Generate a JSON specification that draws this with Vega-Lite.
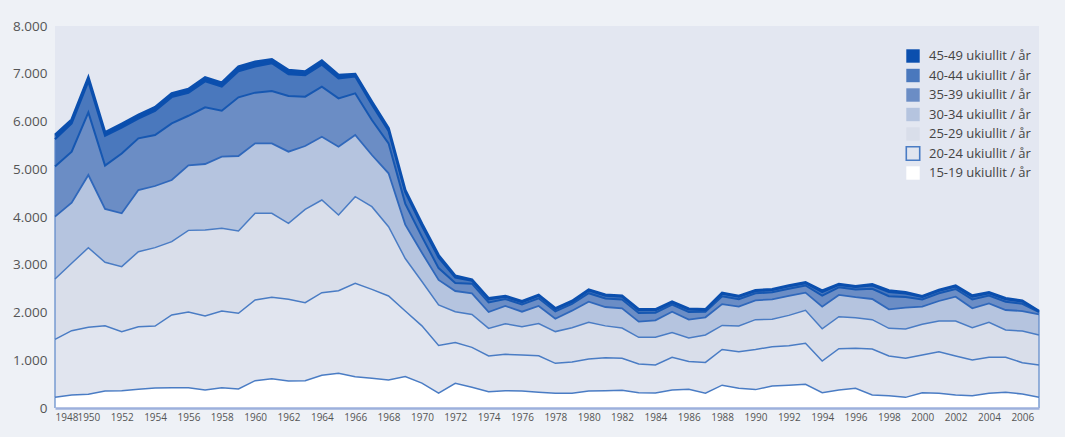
{
  "$schema": "https://vega.github.io/schema/vega-lite/v6.json",
  "width": 984,
  "height": 382,
  "autosize": {"type": "none"},
  "padding": {"left": 55, "top": 26, "right": 26, "bottom": 29},
  "background": "#eef1f6",
  "view": {"fill": "#e3e7f1", "stroke": null},
  "config": {
    "font": "Open Sans",
    "axis": {"labelColor": "#555555", "grid": false, "ticks": false, "title": null, "labelFont": "Open Sans"}
  },
  "data": {
    "values": [
      {"year":1948,"15-19":223,"20-24":1215,"25-29":1262,"30-34":1307,"35-39":1053,"40-44":570,"45-49":87},
      {"year":1949,"15-19":272,"20-24":1348,"25-29":1410,"30-34":1270,"35-39":1068,"40-44":592,"45-49":80},
      {"year":1950,"15-19":286,"20-24":1403,"25-29":1669,"30-34":1522,"35-39":1312,"40-44":648,"45-49":85},
      {"year":1951,"15-19":356,"20-24":1368,"25-29":1327,"30-34":1117,"35-39":907,"40-44":625,"45-49":70},
      {"year":1952,"15-19":363,"20-24":1236,"25-29":1361,"30-34":1117,"35-39":1253,"40-44":540,"45-49":80},
      {"year":1953,"15-19":391,"20-24":1312,"25-29":1571,"30-34":1291,"35-39":1082,"40-44":413,"45-49":76},
      {"year":1954,"15-19":419,"20-24":1298,"25-29":1641,"30-34":1291,"35-39":1068,"40-44":503,"45-49":80},
      {"year":1955,"15-19":426,"20-24":1522,"25-29":1535,"30-34":1292,"35-39":1187,"40-44":548,"45-49":80},
      {"year":1956,"15-19":426,"20-24":1584,"25-29":1710,"30-34":1360,"35-39":1040,"40-44":480,"45-49":80},
      {"year":1957,"15-19":377,"20-24":1550,"25-29":1801,"30-34":1382,"35-39":1187,"40-44":543,"45-49":85},
      {"year":1958,"15-19":426,"20-24":1605,"25-29":1732,"30-34":1501,"35-39":963,"40-44":503,"45-49":83},
      {"year":1959,"15-19":398,"20-24":1585,"25-29":1724,"30-34":1570,"35-39":1229,"40-44":544,"45-49":98},
      {"year":1960,"15-19":572,"20-24":1690,"25-29":1815,"30-34":1466,"35-39":1061,"40-44":546,"45-49":103},
      {"year":1961,"15-19":614,"20-24":1704,"25-29":1759,"30-34":1466,"35-39":1096,"40-44":581,"45-49":82},
      {"year":1962,"15-19":565,"20-24":1711,"25-29":1591,"30-34":1501,"35-39":1166,"40-44":456,"45-49":88},
      {"year":1963,"15-19":572,"20-24":1634,"25-29":1955,"30-34":1326,"35-39":1033,"40-44":450,"45-49":74},
      {"year":1964,"15-19":684,"20-24":1731,"25-29":1941,"30-34":1326,"35-39":1048,"40-44":460,"45-49":84},
      {"year":1965,"15-19":726,"20-24":1731,"25-29":1585,"30-34":1431,"35-39":1012,"40-44":415,"45-49":74},
      {"year":1966,"15-19":656,"20-24":1955,"25-29":1815,"30-34":1291,"35-39":873,"40-44":350,"45-49":55},
      {"year":1967,"15-19":621,"20-24":1864,"25-29":1731,"30-34":1082,"35-39":733,"40-44":319,"45-49":65},
      {"year":1968,"15-19":586,"20-24":1760,"25-29":1452,"30-34":1117,"35-39":628,"40-44":257,"45-49":57},
      {"year":1969,"15-19":660,"20-24":1370,"25-29":1100,"30-34":710,"35-39":440,"40-44":240,"45-49":45},
      {"year":1970,"15-19":520,"20-24":1200,"25-29":930,"30-34":600,"35-39":340,"40-44":220,"45-49":50},
      {"year":1971,"15-19":310,"20-24":1000,"25-29":847,"30-34":524,"35-39":249,"40-44":220,"45-49":50},
      {"year":1972,"15-19":517,"20-24":853,"25-29":647,"30-34":433,"35-39":170,"40-44":110,"45-49":40},
      {"year":1973,"15-19":433,"20-24":837,"25-29":690,"30-34":441,"35-39":202,"40-44":64,"45-49":23},
      {"year":1974,"15-19":342,"20-24":747,"25-29":579,"30-34":342,"35-39":201,"40-44":63,"45-49":23},
      {"year":1975,"15-19":363,"20-24":761,"25-29":641,"30-34":371,"35-39":147,"40-44":46,"45-49":17},
      {"year":1976,"15-19":356,"20-24":754,"25-29":593,"30-34":314,"35-39":152,"40-44":48,"45-49":17},
      {"year":1977,"15-19":328,"20-24":767,"25-29":675,"30-34":366,"35-39":162,"40-44":51,"45-49":18},
      {"year":1978,"15-19":307,"20-24":628,"25-29":665,"30-34":270,"35-39":152,"40-44":48,"45-49":17},
      {"year":1979,"15-19":307,"20-24":658,"25-29":715,"30-34":358,"35-39":141,"40-44":45,"45-49":16},
      {"year":1980,"15-19":356,"20-24":670,"25-29":768,"30-34":433,"35-39":177,"40-44":56,"45-49":20},
      {"year":1981,"15-19":363,"20-24":691,"25-29":666,"30-34":395,"35-39":179,"40-44":56,"45-49":20},
      {"year":1982,"15-19":370,"20-24":670,"25-29":635,"30-34":412,"35-39":184,"40-44":58,"45-49":21},
      {"year":1983,"15-19":321,"20-24":600,"25-29":559,"30-34":328,"35-39":181,"40-44":56,"45-49":21},
      {"year":1984,"15-19":315,"20-24":585,"25-29":580,"30-34":356,"35-39":161,"40-44":51,"45-49":18},
      {"year":1985,"15-19":377,"20-24":684,"25-29":517,"30-34":439,"35-39":147,"40-44":46,"45-49":17},
      {"year":1986,"15-19":391,"20-24":584,"25-29":490,"30-34":385,"35-39":161,"40-44":51,"45-49":18},
      {"year":1987,"15-19":310,"20-24":645,"25-29":575,"30-34":369,"35-39":117,"40-44":37,"45-49":13},
      {"year":1988,"15-19":478,"20-24":747,"25-29":505,"30-34":445,"35-39":163,"40-44":52,"45-49":18},
      {"year":1989,"15-19":412,"20-24":768,"25-29":537,"30-34":405,"35-39":157,"40-44":49,"45-49":18},
      {"year":1990,"15-19":385,"20-24":840,"25-29":625,"30-34":405,"35-39":147,"40-44":46,"45-49":17},
      {"year":1991,"15-19":461,"20-24":823,"25-29":576,"30-34":416,"35-39":148,"40-44":47,"45-49":17},
      {"year":1992,"15-19":475,"20-24":830,"25-29":635,"30-34":406,"35-39":153,"40-44":48,"45-49":18},
      {"year":1993,"15-19":496,"20-24":858,"25-29":691,"30-34":370,"35-39":151,"40-44":47,"45-49":17},
      {"year":1994,"15-19":321,"20-24":663,"25-29":676,"30-34":462,"35-39":233,"40-44":73,"45-49":27},
      {"year":1995,"15-19":377,"20-24":866,"25-29":670,"30-34":454,"35-39":160,"40-44":50,"45-49":18},
      {"year":1996,"15-19":412,"20-24":838,"25-29":640,"30-34":430,"35-39":161,"40-44":51,"45-49":18},
      {"year":1997,"15-19":272,"20-24":964,"25-29":614,"30-34":433,"35-39":215,"40-44":67,"45-49":25},
      {"year":1998,"15-19":258,"20-24":831,"25-29":579,"30-34":398,"35-39":276,"40-44":86,"45-49":32},
      {"year":1999,"15-19":223,"20-24":817,"25-29":614,"30-34":447,"35-39":225,"40-44":70,"45-49":26},
      {"year":2000,"15-19":321,"20-24":789,"25-29":642,"30-34":370,"35-39":153,"40-44":48,"45-49":17},
      {"year":2001,"15-19":307,"20-24":873,"25-29":642,"30-34":419,"35-39":161,"40-44":51,"45-49":18},
      {"year":2002,"15-19":272,"20-24":817,"25-29":733,"30-34":510,"35-39":160,"40-44":50,"45-49":18},
      {"year":2003,"15-19":258,"20-24":747,"25-29":677,"30-34":405,"35-39":186,"40-44":59,"45-49":21},
      {"year":2004,"15-19":307,"20-24":754,"25-29":733,"30-34":398,"35-39":161,"40-44":51,"45-49":18},
      {"year":2005,"15-19":328,"20-24":733,"25-29":572,"30-34":419,"35-39":172,"40-44":54,"45-49":19},
      {"year":2006,"15-19":293,"20-24":656,"25-29":663,"30-34":419,"35-39":152,"40-44":48,"45-49":17},
      {"year":2007,"15-19":223,"20-24":677,"25-29":629,"30-34":433,"35-39":48,"40-44":15,"45-49":6}
    ]
  },
  "transform": [
    {"fold": ["15-19","20-24","25-29","30-34","35-39","40-44","45-49"], "as": ["key","value"]},
    {"stack": "value", "groupby": ["year"], "sort": [{"field": "key", "order": "ascending"}], "as": ["v0","v1"]}
  ],
  "encoding": {
    "x": {
      "field": "year", "type": "quantitative",
      "scale": {"domain": [1948, 2007], "nice": false, "zero": false},
      "axis": {
        "values": [1948,1950,1952,1954,1956,1958,1960,1962,1964,1966,1968,1970,1972,1974,1976,1978,1980,1982,1984,1986,1988,1990,1992,1994,1996,1998,2000,2002,2004,2006],
        "format": "d", "labelFlush": true, "labelOverlap": false, "labelFontSize": 10, "labelPadding": 4,
        "domainColor": "#9db0dc", "domainWidth": 2.5, "zindex": 1
      }
    }
  },
  "layer": [
    {
      "mark": {"type": "area", "opacity": 1},
      "encoding": {
        "y": {
          "field": "v1", "type": "quantitative",
          "scale": {"domain": [0, 8000], "nice": false},
          "axis": {
            "values": [0,1000,2000,3000,4000,5000,6000,7000,8000],
            "labelExpr": "datum.value == 0 ? '0' : replace(format(datum.value, ','), ',', '.')",
            "domain": false, "labelFontSize": 13.5, "labelPadding": 8
          }
        },
        "y2": {"field": "v0"},
        "fill": {
          "field": "key", "type": "nominal",
          "scale": {
            "domain": ["45-49","40-44","35-39","30-34","25-29","20-24","15-19"],
            "range": ["#0b4fae","#4a78bd","#6b8dc5","#b5c4df","#d9deea","#e1e5ef","#ffffff"]
          },
          "legend": {
            "orient": "none", "legendX": 850, "legendY": 22, "title": null,
            "symbolType": "square", "symbolSize": 180, "symbolOpacity": 1,
            "labelFontSize": 13, "labelColor": "#444444", "labelFont": "Open Sans",
            "labelOffset": 8, "rowPadding": -0.5, "padding": 0,
            "labelExpr": "datum.label + ' ukiullit / år'",
            "encode": {
              "symbols": {
                "update": {
                  "stroke": {"signal": "datum.value === '20-24' ? '#4a7cc4' : 'transparent'"},
                  "strokeWidth": {"value": 1.6}
                }
              }
            }
          }
        }
      }
    },
    {
      "transform": [{"filter": "datum.year == 1948 || datum.year == 2007"}],
      "mark": {"type": "rule", "color": "#5b87c9", "strokeWidth": 1.2},
      "encoding": {
        "y": {"field": "v0", "type": "quantitative"},
        "y2": {"field": "v1"}
      }
    },
    {
      "mark": {"type": "line"},
      "encoding": {
        "y": {"field": "v1", "type": "quantitative"},
        "detail": {"field": "key", "type": "nominal"},
        "stroke": {
          "condition": [
            {"test": "datum.key == '45-49' || datum.key == '40-44'", "value": "#0b4fae"},
            {"test": "datum.key == '35-39'", "value": "#1657b1"},
            {"test": "datum.key == '30-34'", "value": "#3068bb"}
          ],
          "value": "#4a7cc4"
        },
        "strokeWidth": {
          "condition": [
            {"test": "datum.key == '45-49'", "value": 2.6},
            {"test": "datum.key == '40-44' || datum.key == '35-39'", "value": 2},
            {"test": "datum.key == '30-34'", "value": 1.8}
          ],
          "value": 1.5
        }
      }
    }
  ]
}
